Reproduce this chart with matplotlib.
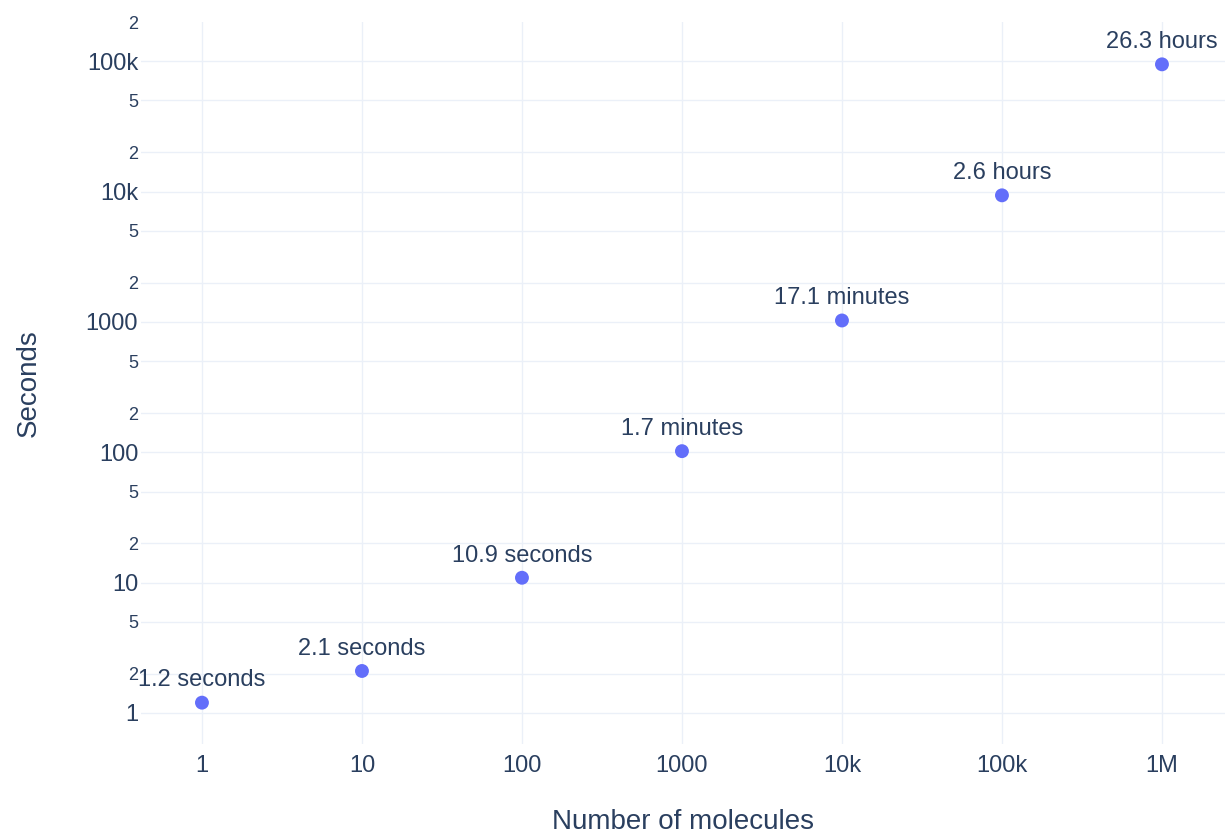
import numpy as np
import matplotlib.pyplot as plt
from matplotlib.ticker import FixedLocator, FixedFormatter, NullLocator

# Runtime vs. number of molecules
molecules = [1, 10, 100, 1000, 10_000, 100_000, 1_000_000]
seconds = [1.2, 2.1, 10.9, 102, 1026, 9360, 94680]
labels = ['1.2 seconds', '2.1 seconds', '10.9 seconds', '1.7 minutes',
          '17.1 minutes', '2.6 hours', '26.3 hours']

x_ticks = [1, 10, 100, 1000, 1e4, 1e5, 1e6]
x_tick_labels = ['1', '10', '100', '1000', '10k', '100k', '1M']
y_ticks = [1, 10, 100, 1000, 1e4, 1e5]
y_tick_labels = ['1', '10', '100', '1000', '10k', '100k']
y_minor = [2, 5, 20, 50, 200, 500, 2000, 5000, 2e4, 5e4, 2e5]
y_minor_labels = ['2', '5'] * 5 + ['2']

text_color = '#2a3f5f'
grid_color = '#ebf0f8'
plt.rcParams['font.family'] = ['Liberation Sans', 'DejaVu Sans']

fig = plt.figure(figsize=(12.25, 8.34), dpi=100)
ax = fig.add_axes([141 / 1225, 90 / 834, 1 - 141 / 1225, (744 - 22) / 834])

ax.set_xscale('log')
ax.set_yscale('log')
ax.set_xlim(10 ** -0.381, 10 ** 6.394)
ax.set_ylim(10 ** -0.238, 2e5)

ax.scatter(molecules, seconds, s=100, color='#636efa', zorder=3,
           edgecolors='none')
for x, y, t in zip(molecules, seconds, labels):
    ax.annotate(t, (x, y), xytext=(0, 16), textcoords='offset points',
                ha='center', va='center', fontsize=17, color=text_color,
                annotation_clip=False)

ax.xaxis.set_major_locator(FixedLocator(x_ticks))
ax.xaxis.set_major_formatter(FixedFormatter(x_tick_labels))
ax.xaxis.set_minor_locator(NullLocator())
ax.yaxis.set_major_locator(FixedLocator(y_ticks))
ax.yaxis.set_major_formatter(FixedFormatter(y_tick_labels))
ax.yaxis.set_minor_locator(FixedLocator(y_minor))
ax.yaxis.set_minor_formatter(FixedFormatter(y_minor_labels))

ax.tick_params(axis='both', which='both', length=0, colors=text_color)
ax.tick_params(axis='x', which='major', labelsize=17, pad=8)
ax.tick_params(axis='y', which='major', labelsize=17, pad=2)
ax.tick_params(axis='y', which='minor', labelsize=13, pad=2)

ax.grid(True, axis='x', which='major', color=grid_color, linewidth=1.0)
ax.grid(True, axis='y', which='both', color=grid_color, linewidth=1.0)
# no grid line along the very top edge
ax.yaxis.get_minor_ticks()[-1].gridline.set_visible(False)
ax.set_axisbelow(True)
for s in ax.spines.values():
    s.set_visible(False)

ax.set_xlabel('Number of molecules', fontsize=20, color=text_color, labelpad=23)
ax.set_ylabel('Seconds', fontsize=20, color=text_color, labelpad=32)

fig.savefig('out.png', dpi=100)
